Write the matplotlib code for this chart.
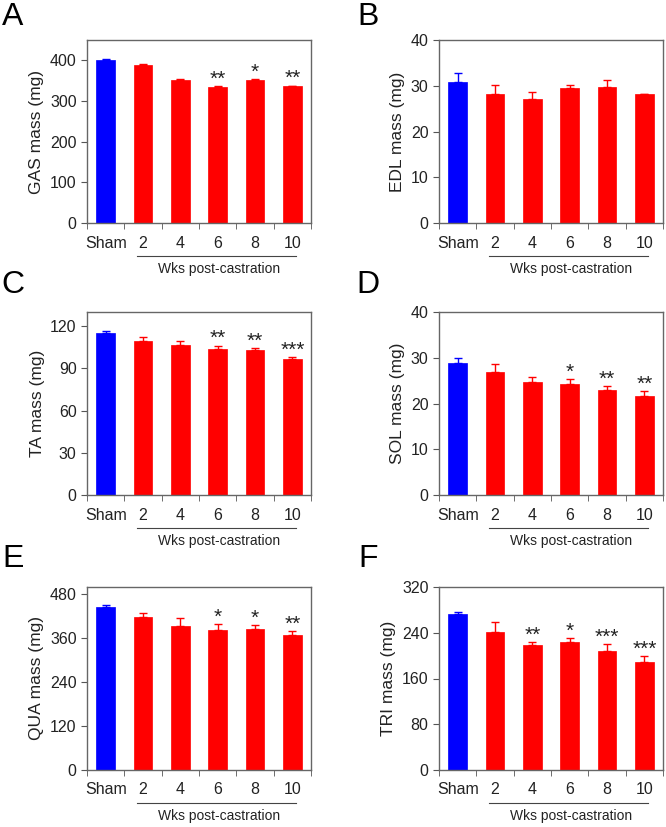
import matplotlib
matplotlib.use("Agg")
import matplotlib.pyplot as plt
import numpy as np

plt.rcParams['font.family'] = ['Liberation Sans', 'DejaVu Sans']

groups = ["Sham", "2", "4", "6", "8", "10"]

gas = [401, 388, 352, 335, 351, 336]
gas_err = [2, 2, 2, 2, 2, 2]
gas_sig = ["", "", "", "**", "*", "**"]

edl = [30.8, 28.3, 27.0, 29.4, 29.8, 28.1]
edl_err = [2.0, 1.8, 1.6, 0.8, 1.5, 0.2]
edl_sig = ["", "", "", "", "", ""]

ta = [114.8, 109.4, 106.5, 103.4, 102.8, 96.6]
ta_err = [1.6, 3.0, 2.8, 2.8, 1.4, 1.2]
ta_sig = ["", "", "", "**", "**", "***"]

sol = [28.8, 26.9, 24.8, 24.2, 23.0, 21.6]
sol_err = [1.1, 1.7, 0.9, 1.2, 0.8, 1.1]
sol_sig = ["", "", "", "*", "**", "**"]

qua = [445, 418, 394, 382, 386, 369]
qua_err = [6, 12, 22, 17, 11, 10]
qua_sig = ["", "", "", "*", "*", "**"]

tri = [272, 241, 218, 223, 208, 189]
tri_err = [5, 17, 6, 7, 12, 10]
tri_sig = ["", "", "**", "*", "***", "***"]

panels = [
    ("A", "GAS mass (mg)", gas, gas_err, gas_sig, 450, [0, 100, 200, 300, 400]),
    ("B", "EDL mass (mg)", edl, edl_err, edl_sig, 40, [0, 10, 20, 30, 40]),
    ("C", "TA mass (mg)", ta, ta_err, ta_sig, 130, [0, 30, 60, 90, 120]),
    ("D", "SOL mass (mg)", sol, sol_err, sol_sig, 40, [0, 10, 20, 30, 40]),
    ("E", "QUA mass (mg)", qua, qua_err, qua_sig, 500, [0, 120, 240, 360, 480]),
    ("F", "TRI mass (mg)", tri, tri_err, tri_sig, 320, [0, 80, 160, 240, 320]),
]

W, H = 666, 827
fig = plt.figure(figsize=(W / 100, H / 100), dpi=100)

lefts = [87, 439]
bottoms = [223, 495, 770]
aw, ah = 224, 183
letter_y = [17, 285, 559]
letter_x = [13, 368]

colors = ["#0000ff"] + ["#ff0000"] * 5
x = np.arange(len(groups))

for i, (letter, ylab, vals, errs, sig, ymax, yt) in enumerate(panels):
    r, c = divmod(i, 2)
    ax = fig.add_axes([lefts[c] / W, 1 - bottoms[r] / H, aw / W, ah / H])
    for j in range(len(groups)):
        ax.bar(x[j], vals[j], width=0.5, color=colors[j], edgecolor=colors[j], linewidth=0.5, zorder=2)
        ax.errorbar(x[j], vals[j], yerr=[[0], [errs[j]]], fmt="none", ecolor=colors[j],
                    elinewidth=1, capsize=3, capthick=1, zorder=3)
        if sig[j]:
            ax.text(x[j], vals[j] + errs[j] - ymax * 0.015, sig[j], ha="center", va="bottom",
                    fontsize=15, color="#222222")
    ax.set_xlim(-0.5, 5.5)
    ax.set_ylim(0, ymax)
    ax.set_yticks(yt)
    ax.set_xticks(x)
    ax.set_xticklabels(groups)
    ax.set_xticks(np.arange(-0.5, 6, 1), minor=True)
    ax.tick_params(axis="x", which="major", length=0, labelsize=11.5, pad=9, colors="#222222")
    ax.tick_params(axis="x", which="minor", length=4, direction="out", color="#555555")
    ax.tick_params(axis="y", length=4, direction="out", labelsize=11.5, color="#555555", labelcolor="#222222")
    for s in ax.spines.values():
        s.set_color("#666666")
        s.set_linewidth(1)
    ax.set_ylabel(ylab, fontsize=12.5, color="#222222", labelpad=4)
    ax.plot([0.85, 5.1], [-0.18, -0.18], transform=ax.get_xaxis_transform(), color="#444444",
            linewidth=0.8, clip_on=False)
    ax.text(3.03, -0.25, "Wks post-castration", transform=ax.get_xaxis_transform(), ha="center",
            va="center", fontsize=10, color="#222222")
    fig.text(letter_x[c] / W, 1 - letter_y[r] / H, letter, fontsize=23, ha="center", va="center")

fig.savefig("out.png", dpi=100)
